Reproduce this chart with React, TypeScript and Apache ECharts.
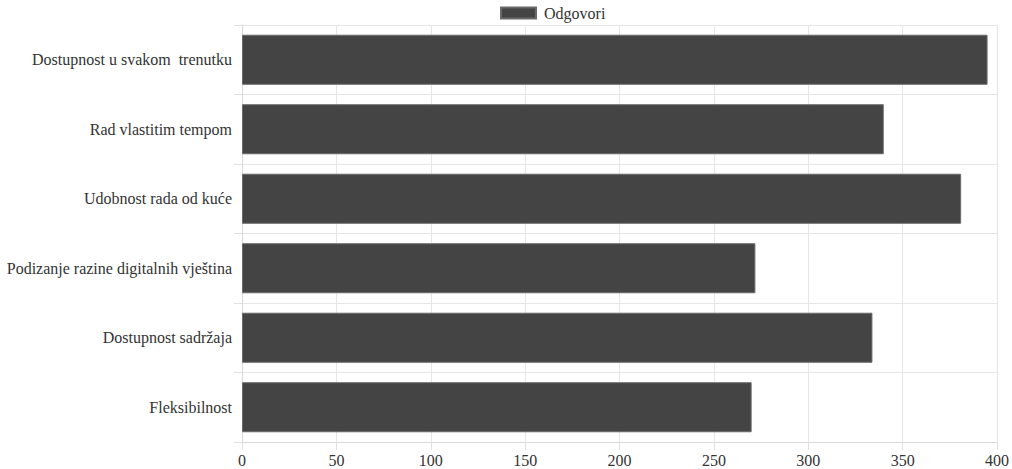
import React, { useEffect, useRef } from "react";
import * as echarts from "echarts";

const categories = [
  "Dostupnost u svakom  trenutku",
  "Rad vlastitim tempom",
  "Udobnost rada od kuće",
  "Podizanje razine digitalnih vještina",
  "Dostupnost sadržaja",
  "Fleksibilnost",
];
const seriesName = "Odgovori";
const values = [395, 340, 381, 272, 334, 270];
const xMin = 0;
const xMax = 400;
const xInterval = 50;

const FONT = "Liberation Serif, Times New Roman, serif";

export default function App() {
  const ref = useRef<HTMLDivElement>(null);
  useEffect(() => {
    if (!ref.current) return;
    const chart = echarts.init(ref.current, undefined, { renderer: "svg" });
    chart.setOption({
      animation: false,
      backgroundColor: "#ffffff",
      textStyle: { fontFamily: FONT },
      legend: {
        top: 5,
        left: 500,
        padding: 0,
        itemWidth: 35,
        itemHeight: 11,
        itemGap: 10,
        textStyle: { color: "#333", fontSize: 16, fontFamily: FONT, padding: [0, 0, 0, 3] },
        data: [seriesName],
        icon: "rect",
      },
      grid: { left: 242, right: 14, top: 25, bottom: 27, containLabel: false },
      xAxis: {
        type: "value",
        min: xMin,
        max: xMax,
        interval: xInterval,
        axisLine: { show: true, lineStyle: { color: "#d9d9d9" } },
        axisTick: { show: true, length: 8, lineStyle: { color: "#e0e0e0" } },
        axisLabel: { color: "#333", fontSize: 16, fontFamily: FONT, margin: 10 },
        splitLine: { show: true, lineStyle: { color: "#e6e6e6" } },
      },
      yAxis: {
        type: "category",
        inverse: true,
        data: categories,
        axisLine: { show: true, lineStyle: { color: "#d9d9d9" } },
        axisTick: { show: true, length: 8, lineStyle: { color: "#e0e0e0" } },
        axisLabel: { color: "#333", fontSize: 16, fontFamily: FONT, margin: 10 },
        splitLine: { show: true, lineStyle: { color: "#e6e6e6" } },
      },
      series: [
        {
          name: seriesName,
          type: "bar",
          data: values,
          barCategoryGap: "28%",
          itemStyle: { color: "#444444", borderColor: "#6a6a6a", borderWidth: 1 },
        },
      ],
    });
    return () => chart.dispose();
  }, []);
  return (
    <div
      ref={ref}
      style={{ position: "fixed", left: 0, top: 0, width: 1012, height: 469 }}
    />
  );
}
